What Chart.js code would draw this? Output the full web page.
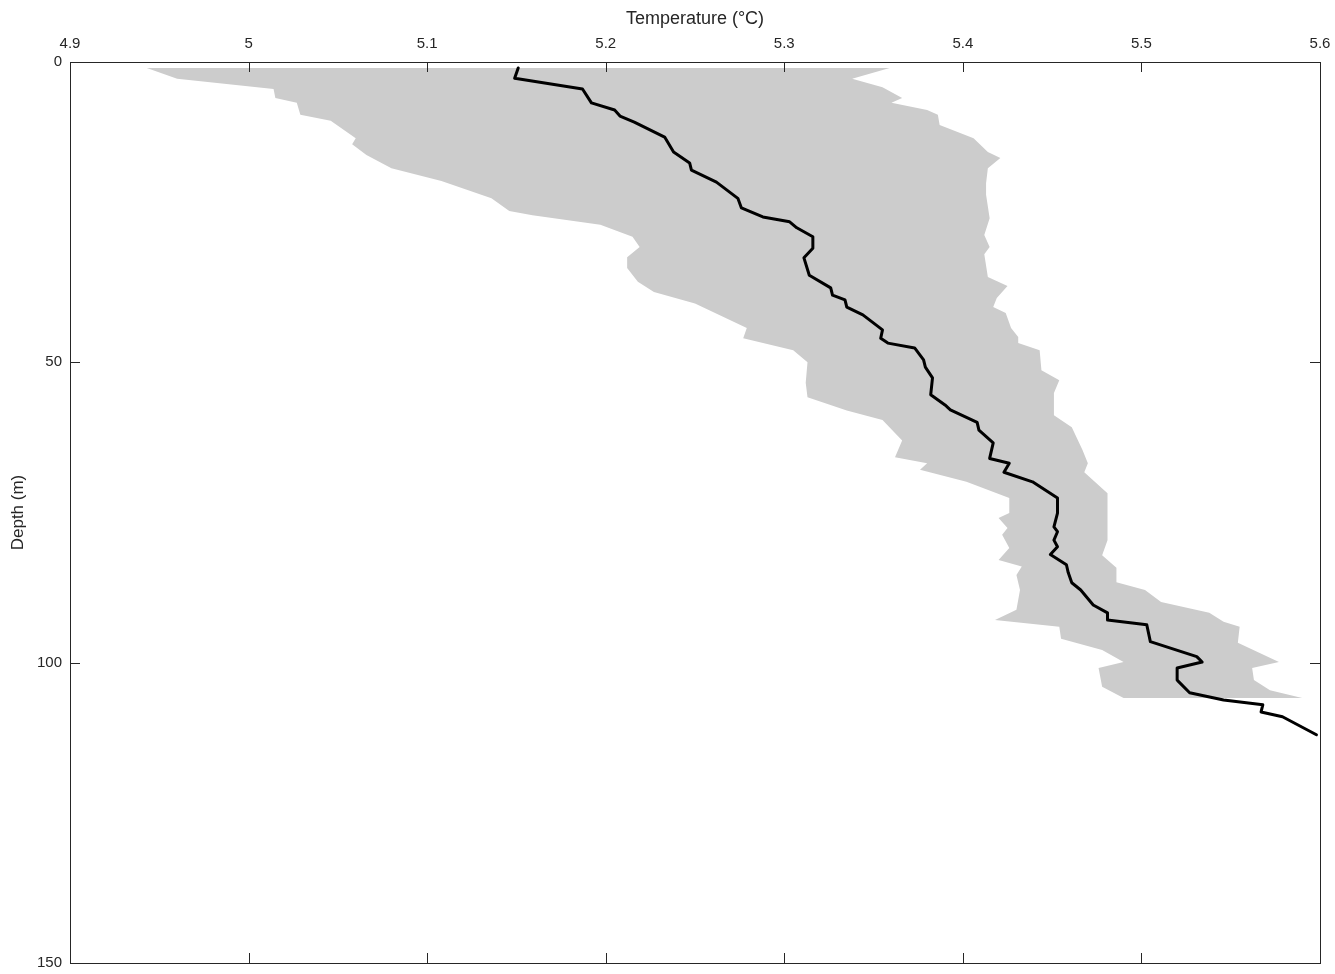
<!DOCTYPE html>
<html>
<head>
<meta charset="utf-8">
<script src="https://cdn.jsdelivr.net/npm/chart.js@4.4.1/dist/chart.umd.min.js"></script>
<style>
  html, body { margin: 0; padding: 0; background: #fff; }
</style>
</head>
<body>
<canvas id="ProfileChart" width="1335" height="974"></canvas>
<script>
// axis ticks
var tempTicks = [4.9, 5.0, 5.1, 5.2, 5.3, 5.4, 5.5, 5.6];
var depthTicks = [0, 50, 100, 150];

// mean profile
var meanDepth = [1, 2.7, 4.5, 6.8, 8, 9, 10, 12.5, 15, 16.8, 18, 20, 22.7, 24.3, 25.8, 26.6, 27.6, 29.1, 31, 32.6,
  35.5, 37.6, 38.8, 39.6, 40.8, 42.1, 44.6, 46, 46.8, 47.6, 49.6, 50.8, 52.6, 55.4, 57.1, 57.9, 60, 61.3, 63.4, 66,
  66.8, 68.3, 69.9, 72.6, 75.1, 77.4, 78.2, 79.6, 80.7, 82, 83.7, 85, 86.7, 87.9, 90.4, 91.7, 92.9, 93.7, 96.5,
  99, 99.9, 100.9, 102.9, 105, 106.2, 107, 108.2, 109, 112];
var meanTemp = [5.151, 5.149, 5.187, 5.192, 5.205, 5.208, 5.216, 5.233, 5.238, 5.247, 5.248, 5.262, 5.274, 5.276, 5.288, 5.303, 5.307, 5.316, 5.316, 5.311,
  5.314, 5.326, 5.327, 5.334, 5.335, 5.344, 5.355, 5.354, 5.358, 5.373, 5.378, 5.379, 5.383, 5.382, 5.390, 5.393, 5.408, 5.409, 5.417, 5.415,
  5.426, 5.423, 5.439, 5.453, 5.453, 5.451, 5.453, 5.451, 5.453, 5.449, 5.458, 5.459, 5.461, 5.466, 5.473, 5.481, 5.481, 5.503, 5.505,
  5.531, 5.534, 5.520, 5.520, 5.527, 5.546, 5.568, 5.567, 5.579, 5.598];

// lower edge of the shaded range
var lowDepth = [1, 2.8, 4.5, 6, 6.8, 8.8, 9.8, 12.7, 13.7, 15.5, 17.7, 19.8, 22.7, 24.8, 25.5, 27.1, 29.1, 30.8, 32.5, 34.3,
  36.6, 38.3, 40.2, 44.3, 46, 48, 50, 53.4, 55.8, 58, 59.6, 63, 65.8, 66.8, 67.9, 69.9, 72.6, 75.1, 75.9, 77.6,
  78.7, 80.9, 82.9, 84, 85.4, 87.9, 91.2, 92.9, 94, 96, 97.9, 99.9, 100.9, 104, 105.9];
var lowTemp = [4.943, 4.960, 5.014, 5.015, 5.027, 5.029, 5.046, 5.060, 5.058, 5.066, 5.080, 5.108, 5.136, 5.146, 5.159, 5.197, 5.215, 5.219, 5.212, 5.212,
  5.218, 5.227, 5.250, 5.279, 5.277, 5.305, 5.313, 5.312, 5.313, 5.335, 5.355, 5.366, 5.362, 5.380, 5.376, 5.402, 5.426, 5.426, 5.420, 5.425,
  5.422, 5.426, 5.420, 5.433, 5.430, 5.432, 5.430, 5.418, 5.454, 5.455, 5.478, 5.490, 5.476, 5.478, 5.490];

// upper edge of the shaded range
var highDepth = [1, 2.8, 4.2, 6, 6.8, 8, 8.8, 10.5, 12.7, 15, 16, 17.7, 20.2, 22.1, 26, 28.8, 30.8, 32, 35.8, 37.3,
  39.3, 40.8, 41.8, 44.3, 45.8, 46.8, 48, 51.3, 53, 55.1, 58.8, 60.8, 64.6, 66.8, 68.3, 71.8, 74.6, 79.6, 82.1, 84.2,
  86.6, 87.9, 89.9, 91.7, 93.2, 94, 96.7, 99.9, 100.9, 102.9, 104.6, 105.9];
var highTemp = [5.359, 5.338, 5.355, 5.366, 5.360, 5.380, 5.386, 5.387, 5.406, 5.414, 5.421, 5.414, 5.413, 5.413, 5.415, 5.412, 5.415, 5.412, 5.414, 5.425,
  5.419, 5.417, 5.424, 5.427, 5.431, 5.431, 5.443, 5.444, 5.454, 5.451, 5.451, 5.461, 5.467, 5.470, 5.468, 5.481, 5.481, 5.481, 5.478, 5.486,
  5.486, 5.502, 5.511, 5.538, 5.546, 5.555, 5.554, 5.577, 5.562, 5.563, 5.572, 5.590];

var axisColor = '#262626';
var fontFamily = 'Liberation Sans, Arial, sans-serif';

var meanPoints = meanDepth.map(function (d, i) { return { x: meanTemp[i], y: d }; });
var bandPoints = lowDepth.map(function (d, i) { return { x: lowTemp[i], y: d }; });
for (var i = highDepth.length - 1; i >= 0; i--) {
  bandPoints.push({ x: highTemp[i], y: highDepth[i] });
}

function noOverflow(s) {
  s.paddingLeft = 0; s.paddingRight = 0; s.paddingTop = 0; s.paddingBottom = 0;
}

// MATLAB-like box with inward ticks on all four sides
var boxTicks = {
  id: 'boxTicks',
  afterDatasetsDraw: function (chart) {
    var ctx = chart.ctx, a = chart.chartArea, sx = chart.scales.x, sy = chart.scales.y;
    ctx.save();
    ctx.strokeStyle = axisColor;
    ctx.lineWidth = 1;
    ctx.beginPath();
    sx.ticks.forEach(function (t) {
      var px = Math.round(sx.getPixelForValue(t.value)) + 0.5;
      ctx.moveTo(px, a.top); ctx.lineTo(px, a.top + 10);
      ctx.moveTo(px, a.bottom); ctx.lineTo(px, a.bottom - 10);
    });
    sy.ticks.forEach(function (t) {
      var py = Math.round(sy.getPixelForValue(t.value)) + 0.5;
      ctx.moveTo(a.left, py); ctx.lineTo(a.left + 10, py);
      ctx.moveTo(a.right, py); ctx.lineTo(a.right - 10, py);
    });
    ctx.stroke();
    ctx.strokeRect(Math.round(a.left) + 0.5, Math.round(a.top) + 0.5,
      Math.round(a.right - a.left), Math.round(a.bottom - a.top));
    ctx.restore();
  }
};

var ctx = document.getElementById('ProfileChart').getContext('2d');
var myChart = new Chart(ctx, {
  type: 'scatter',
  data: {
    datasets: [{
      label: 'Mean',
      data: meanPoints,
      showLine: true,
      borderColor: '#000000',
      borderWidth: 3,
      borderJoinStyle: 'round',
      borderCapStyle: 'round',
      pointRadius: 0,
      tension: 0,
      fill: false,
      order: 0
    }, {
      label: 'Range',
      data: bandPoints,
      showLine: true,
      borderColor: 'rgba(0,0,0,0)',
      borderWidth: 0,
      backgroundColor: '#cccccc',
      pointRadius: 0,
      tension: 0,
      fill: 'shape',
      order: 1
    }]
  },
  options: {
    responsive: false,
    animation: false,
    layout: { padding: { left: 0, top: 0, right: 15, bottom: 11 } },
    plugins: {
      legend: { display: false },
      tooltip: { enabled: false }
    },
    scales: {
      x: {
        type: 'linear',
        position: 'top',
        min: 4.9,
        max: 5.6,
        afterBuildTicks: function (s) { s.ticks = tempTicks.map(function (v) { return { value: v }; }); },
        afterFit: function (s) { s.height = 62; noOverflow(s); },
        grid: { display: false, drawTicks: false },
        border: { display: false },
        ticks: {
          color: axisColor,
          padding: 9,
          font: { family: fontFamily, size: 15 },
          callback: function (v) { return String(Number(v.toFixed(2))); }
        },
        title: {
          display: true,
          text: 'Temperature (\u00B0C)',
          color: axisColor,
          font: { family: fontFamily, size: 18 },
          padding: { top: 8, bottom: 0 }
        }
      },
      y: {
        type: 'linear',
        reverse: true,
        min: 0,
        max: 150,
        afterBuildTicks: function (s) { s.ticks = depthTicks.map(function (v) { return { value: v }; }); },
        afterFit: function (s) { s.width = 70; noOverflow(s); },
        grid: { display: false, drawTicks: false },
        border: { display: false },
        ticks: {
          color: axisColor,
          padding: 8,
          font: { family: fontFamily, size: 15 }
        },
        title: {
          display: true,
          text: 'Depth (m)',
          color: axisColor,
          font: { family: fontFamily, size: 17 },
          padding: { top: 8, bottom: 0 }
        }
      }
    }
  },
  plugins: [boxTicks]
});
</script>
</body>
</html>
